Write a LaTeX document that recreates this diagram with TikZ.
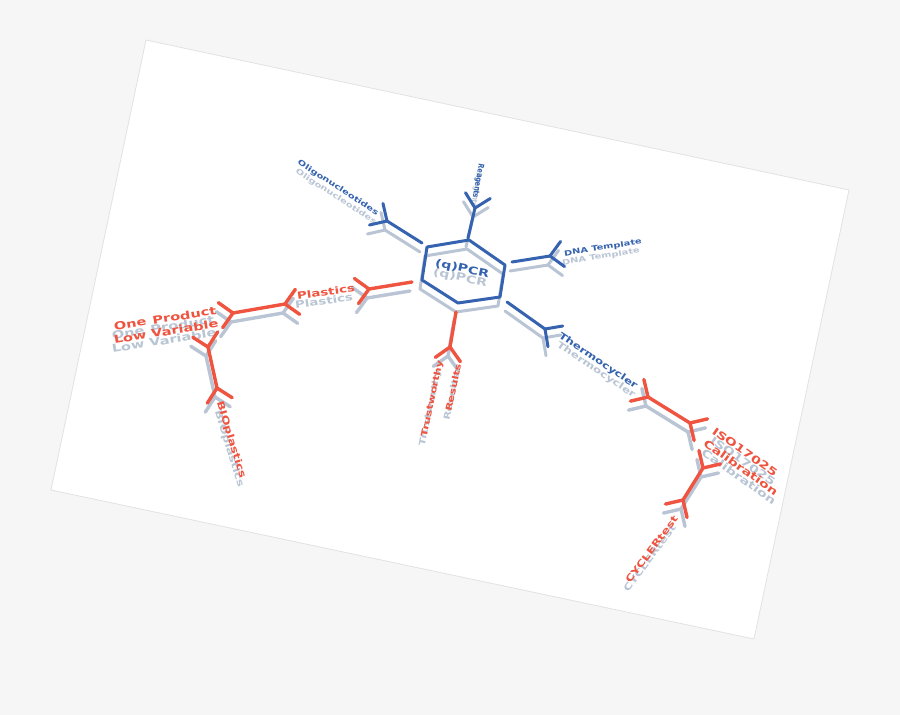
\documentclass[tikz,border=0pt]{standalone}
\usepackage{fontspec}
\usetikzlibrary{calc}
\newfontfamily\mmfont[FakeStretch=1.35]{DejaVu Sans}
\newfontfamily\mmcond[FakeStretch=0.8]{DejaVu Sans}
\definecolor{bgc}{HTML}{F6F6F6}
\definecolor{edgec}{HTML}{E2E2E2}
\definecolor{mblue}{HTML}{3563AF}
\definecolor{mred}{HTML}{EF5440}
\definecolor{mshadow}{HTML}{B9C5D4}
\colorlet{cb}{mblue}
\colorlet{cr}{mred}
\newcommand\mm[2]{\mmfont\bfseries\fontsize{#1}{#2}\selectfont}
\tikzset{
  bl/.style={draw=cb, line width=3pt, line cap=round, line join=round},
  rl/.style={draw=cr, line width=3.4pt, line cap=round, line join=round},
  bt/.style={inner sep=0pt, text=cb},
  rt/.style={inner sep=0pt, text=cr},
  sheet/.style={fill=white, draw=edgec, line width=0.8pt}
}
\newcommand\fork[3]{\draw[#3] ($(#1)!18pt!135:(#2)$) -- (#1) -- ($(#1)!18pt!-135:(#2)$);}
\newcommand\stem[3]{\draw[#3] (#1) -- (#2); \fork{#2}{#1}{#3}}
\newcommand\bistem[3]{\draw[#3] (#1) -- (#2); \fork{#2}{#1}{#3}\fork{#1}{#2}{#3}}
\newcommand\drawmap{%
  % centre hexagon
  \coordinate (h1) at (427,247);
  \coordinate (h2) at (469,240);
  \coordinate (h3) at (505,265);
  \coordinate (h4) at (500,297);
  \coordinate (h5) at (458,303);
  \coordinate (h6) at (422,280);
  \draw[bl] (h1) -- (h2) -- (h3) -- (h4) -- (h5) -- (h6) -- cycle;
  \node[bt, rotate=-12, font={\mm{10.5}{12}}] (pcr) at (462,269) {(q)PCR};
  % blue branches
  \coordinate (oS) at (422,243); \coordinate (oJ) at (387,221); \stem{oS}{oJ}{bl}
  \node[bt, rotate=-33, font={\mm{7.4}{9}}] (oligo) at (338,188) {Oligonucleotides};
  \coordinate (rS) at (468,238); \coordinate (rJ) at (475,208); \stem{rS}{rJ}{bl}
  \node[bt, rotate=-100, font={\mmcond\bfseries\fontsize{8}{9}\selectfont}] (reag) at (478,181) {Reagents};
  \coordinate (dS) at (512,262); \coordinate (dJ) at (550,256); \stem{dS}{dJ}{bl}
  \node[bt, rotate=9, font={\mm{7.3}{9}}] (dna) at (603,248) {DNA Template};
  \coordinate (tS) at (507,302); \coordinate (tJ) at (545,329); \stem{tS}{tJ}{bl}
  \node[bt, rotate=-34, font={\mm{9}{11}}] (thermo) at (598,361) {Thermocycler};
  % red branches
  \coordinate (wS) at (456,312); \coordinate (wJ) at (450,347); \stem{wS}{wJ}{rl}
  \node[rt, rotate=78, align=right, anchor=east, font={\mm{8.5}{19}}] (trust) at (449,362) {Trustworthy\\Results};
  \coordinate (pS) at (412,282); \coordinate (pJ) at (369,289); \stem{pS}{pJ}{rl}
  \node[rt, rotate=8, font={\mm{9.9}{12}}] (plast) at (326,292) {Plastics};
  \coordinate (aA) at (285,304); \coordinate (aB) at (233,313); \bistem{aA}{aB}{rl}
  \node[rt, rotate=9, align=right, font={\mm{10.8}{13}}] (oneprod) at (165,325) {One\hspace{0.6em}Product\\Low Variable};
  \coordinate (bA) at (208,347); \coordinate (bB) at (217,388); \bistem{bA}{bB}{rl}
  \node[rt, rotate=-73, font={\mm{9.4}{11}}] (bio) at (231,440) {BIOplastics};
  \coordinate (cA) at (648,397); \coordinate (cB) at (690,423); \bistem{cA}{cB}{rl}
  \node[rt, rotate=-35, align=left, anchor=west, font={\mm{10.5}{15}}] (iso) at (709,436) {ISO17025\\Calibration};
  \coordinate (eA) at (703,468); \coordinate (eB) at (683,500); \bistem{eA}{eB}{rl}
  \node[rt, rotate=53, anchor=east, font={\mm{9.2}{11}}] (cyc) at (676,517) {CYCLERtest};
}
\begin{document}
\begin{tikzpicture}[x=1pt,y=-1pt]
  \fill[bgc] (0,0) rectangle (900,715);
  \useasboundingbox (0,0) rectangle (900,715);
  \coordinate (s1) at (146,40);
  \coordinate (s2) at (849,190);
  \coordinate (s3) at (754,639);
  \coordinate (s4) at (51,490);
  \draw[sheet] (s1) -- (s2) -- (s3) -- (s4) -- cycle;
  \begin{scope}[shift={(-2,9)}]
    \colorlet{cb}{mshadow}\colorlet{cr}{mshadow}
    \drawmap
  \end{scope}
  \begin{scope}
    \drawmap
  \end{scope}
\end{tikzpicture}
\end{document}
